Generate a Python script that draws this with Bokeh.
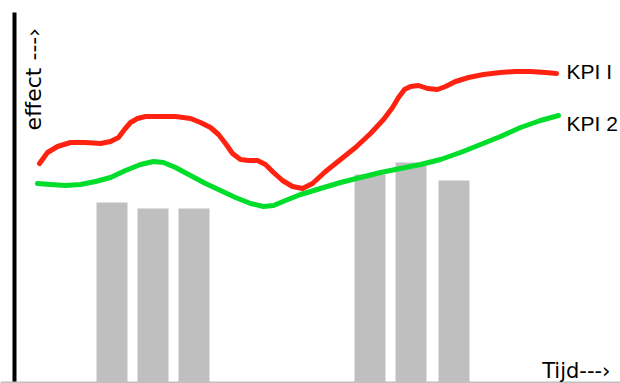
import math
from bokeh.plotting import figure
from bokeh.models import Range1d, Span, Label
from bokeh.embed import file_html
from bokeh.resources import INLINE

# ---- data ----
time_kpi1 = [23, 31, 41, 54, 69, 84, 94, 102, 108, 114,
             121, 129, 144, 159, 174, 184, 194, 202, 209, 216,
             224, 232, 241, 249, 257, 266, 276, 286, 296, 309,
             324, 339, 354, 367, 376, 382, 388, 394, 402, 411,
             421, 429, 439, 452, 467, 484, 499, 514, 529, 540]
kpi1 = [219, 230, 236, 240, 240, 239, 241, 245, 253, 260,
        264, 266, 266, 266, 264, 260, 255, 248, 239, 229,
        223, 222, 222, 218, 210, 202, 196, 194, 199, 211,
        223, 235, 249, 263, 275, 285, 293, 296, 297, 294,
        293, 296, 301, 305, 308, 310, 311, 311, 310, 309]

time_kpi2 = [21, 34, 49, 64, 79, 94, 109, 124, 137, 147,
             159, 174, 189, 204, 219, 234, 247, 257, 269, 284,
             304, 324, 344, 364, 384, 404, 424, 444, 464, 484,
             504, 524, 542]
kpi2 = [199, 198, 197, 198, 201, 205, 212, 218, 221, 220,
        215, 207, 199, 192, 185, 179, 176, 177, 182, 188,
        194, 200, 205, 210, 214, 218, 223, 230, 238, 246,
        255, 262, 267]

bar_time = [95.5, 136.5, 177.5, 353.5, 394.5, 437.5]
bar_effect = [180, 174, 174, 208, 220, 202]

series_names = ["KPI I", "KPI 2"]
x_title = "Tijd---\u203a"
y_title = "effect ---\u203a"

# ---- figure ----
p = figure(width=620, height=383,
           x_range=Range1d(-16, 604), y_range=Range1d(-1, 382),
           x_axis_location=None, y_axis_location=None,
           output_backend="svg", toolbar_location=None, min_border=0)
p.grid.visible = False
p.outline_line_color = None
p.background_fill_color = "white"
p.border_fill_color = "white"

p.vbar(x=bar_time, top=bar_effect, bottom=0, width=31,
       fill_color="#bfbfbf", line_color=None)

p.add_layout(Span(location=0, dimension="width",
                  line_color="#bfbfbf", line_width=2))
p.segment(x0=[-2], y0=[-1], x1=[-2], y1=[370],
          line_color="black", line_width=4)

p.line(time_kpi2, kpi2, line_color="#00dd2a", line_width=5,
       line_cap="round", line_join="round")
p.line(time_kpi1, kpi1, line_color="#ff2211", line_width=5,
       line_cap="round", line_join="round")

p.add_layout(Label(x=550, y=311, text=series_names[0],
                   text_baseline="middle", text_align="left",
                   text_font="Liberation Sans", text_font_size="21px",
                   text_color="black"))
p.add_layout(Label(x=550, y=259.5, text=series_names[1],
                   text_baseline="middle", text_align="left",
                   text_font="Liberation Sans", text_font_size="21px",
                   text_color="black"))
p.add_layout(Label(x=594, y=12, text=x_title,
                   text_baseline="alphabetic", text_align="right",
                   text_font="DejaVu Sans", text_font_size="21px",
                   text_color="black"))
p.add_layout(Label(x=17, y=252, text=y_title, angle=math.pi / 2,
                   text_baseline="alphabetic", text_align="left",
                   text_font="DejaVu Sans", text_font_size="22px",
                   text_color="black"))

open("out.html", "w").write(file_html(p, INLINE))
